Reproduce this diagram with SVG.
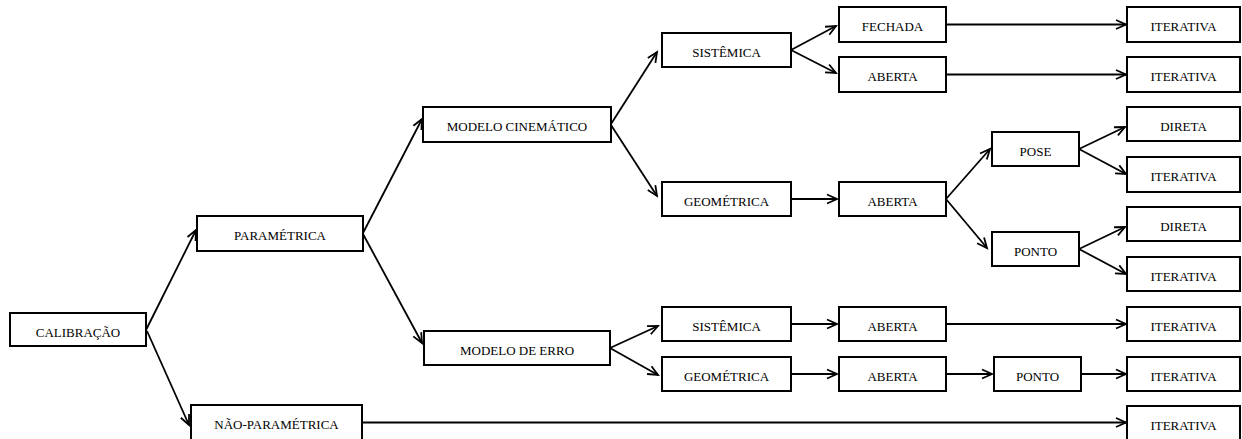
<svg xmlns="http://www.w3.org/2000/svg" width="1242" height="439" viewBox="0 0 1242 439">
<style>
.b rect{fill:#fff;stroke:#000;stroke-width:2}
text{font-family:"Liberation Serif","DejaVu Serif",serif;font-size:13px;fill:#000;text-anchor:middle}
#connectors line{stroke:#000;stroke-width:1.8;fill:none;marker-end:url(#ah)}
</style>
<defs>
<marker id="ah" markerUnits="userSpaceOnUse" markerWidth="14" markerHeight="12" refX="11" refY="6" orient="auto">
<path d="M1,1.5 L11,6 L1,10.5" fill="none" stroke="#000" stroke-width="1.8"/>
</marker>
</defs>
<rect width="1242" height="439" fill="#fff"/>
<g id="connectors">
<line x1="146" y1="330" x2="196" y2="230"/>
<line x1="147" y1="331" x2="189" y2="425"/>
<line x1="363" y1="233" x2="422" y2="119"/>
<line x1="363" y1="234" x2="422" y2="343"/>
<line x1="611" y1="124" x2="657" y2="52"/>
<line x1="611" y1="125" x2="657" y2="196"/>
<line x1="791" y1="50" x2="836" y2="26"/>
<line x1="791" y1="50" x2="836" y2="73"/>
<line x1="946" y1="24.5" x2="1126" y2="24.5"/>
<line x1="946" y1="74.5" x2="1126" y2="74.5"/>
<line x1="791" y1="199" x2="837" y2="199"/>
<line x1="946" y1="199" x2="990" y2="149"/>
<line x1="946" y1="199" x2="987" y2="248"/>
<line x1="1079" y1="149" x2="1125" y2="127"/>
<line x1="1079" y1="149" x2="1126" y2="174"/>
<line x1="1079" y1="249" x2="1125" y2="227"/>
<line x1="1079" y1="249" x2="1126" y2="274"/>
<line x1="610" y1="348" x2="658" y2="326"/>
<line x1="610" y1="348" x2="658" y2="375"/>
<line x1="791" y1="324" x2="837" y2="324"/>
<line x1="946" y1="324" x2="1126" y2="324"/>
<line x1="791" y1="374" x2="837" y2="374"/>
<line x1="946" y1="374" x2="992" y2="374"/>
<line x1="1081" y1="374" x2="1126" y2="374"/>
<line x1="362" y1="422.5" x2="1126" y2="422.5"/>
</g>
<g id="n-calibracao" class="b"><rect x="10" y="313" width="136" height="33"/><text x="78" y="337">CALIBRAÇÃO</text></g>
<g id="n-parametrica" class="b"><rect x="197" y="216" width="166" height="35"/><text x="280" y="240">PARAMÉTRICA</text></g>
<g id="n-nao-parametrica" class="b"><rect x="191" y="405" width="171" height="36"/><text x="276.5" y="429">NÃO-PARAMÉTRICA</text></g>
<g id="n-modelo-cinematico" class="b"><rect x="423" y="107" width="188" height="35"/><text x="517" y="131">MODELO CINEMÁTICO</text></g>
<g id="n-modelo-erro" class="b"><rect x="424" y="331" width="186" height="34"/><text x="517" y="355">MODELO DE ERRO</text></g>
<g id="n-sistemica1" class="b"><rect x="662" y="33" width="129" height="34"/><text x="726.5" y="57">SISTÊMICA</text></g>
<g id="n-geometrica1" class="b"><rect x="662" y="182" width="129" height="34"/><text x="726.5" y="206">GEOMÉTRICA</text></g>
<g id="n-sistemica2" class="b"><rect x="662" y="307" width="129" height="34"/><text x="726.5" y="331">SISTÊMICA</text></g>
<g id="n-geometrica2" class="b"><rect x="662" y="357" width="129" height="34"/><text x="726.5" y="381">GEOMÉTRICA</text></g>
<g id="n-fechada" class="b"><rect x="839" y="7" width="107" height="35"/><text x="892.5" y="31">FECHADA</text></g>
<g id="n-aberta1" class="b"><rect x="839" y="57" width="107" height="35"/><text x="892.5" y="81">ABERTA</text></g>
<g id="n-aberta2" class="b"><rect x="839" y="182" width="107" height="34"/><text x="892.5" y="206">ABERTA</text></g>
<g id="n-aberta3" class="b"><rect x="839" y="307" width="107" height="34"/><text x="892.5" y="331">ABERTA</text></g>
<g id="n-aberta4" class="b"><rect x="839" y="357" width="107" height="34"/><text x="892.5" y="381">ABERTA</text></g>
<g id="n-pose" class="b"><rect x="992" y="132" width="87" height="34"/><text x="1035.5" y="156">POSE</text></g>
<g id="n-ponto1" class="b"><rect x="992" y="232" width="87" height="34"/><text x="1035.5" y="256">PONTO</text></g>
<g id="n-ponto2" class="b"><rect x="994" y="357" width="87" height="34"/><text x="1037.5" y="381">PONTO</text></g>
<g id="n-iterativa1" class="b"><rect x="1127" y="7" width="113" height="35"/><text x="1183.5" y="31">ITERATIVA</text></g>
<g id="n-iterativa2" class="b"><rect x="1127" y="57" width="113" height="35"/><text x="1183.5" y="81">ITERATIVA</text></g>
<g id="n-direta1" class="b"><rect x="1127" y="107" width="113" height="34"/><text x="1183.5" y="131">DIRETA</text></g>
<g id="n-iterativa3" class="b"><rect x="1127" y="157" width="113" height="35"/><text x="1183.5" y="181">ITERATIVA</text></g>
<g id="n-direta2" class="b"><rect x="1127" y="207" width="113" height="34"/><text x="1183.5" y="231">DIRETA</text></g>
<g id="n-iterativa4" class="b"><rect x="1127" y="257" width="113" height="34"/><text x="1183.5" y="281">ITERATIVA</text></g>
<g id="n-iterativa5" class="b"><rect x="1127" y="307" width="113" height="34"/><text x="1183.5" y="331">ITERATIVA</text></g>
<g id="n-iterativa6" class="b"><rect x="1127" y="357" width="113" height="34"/><text x="1183.5" y="381">ITERATIVA</text></g>
<g id="n-iterativa7" class="b"><rect x="1127" y="406" width="113" height="36"/><text x="1183.5" y="430">ITERATIVA</text></g>
</svg>
